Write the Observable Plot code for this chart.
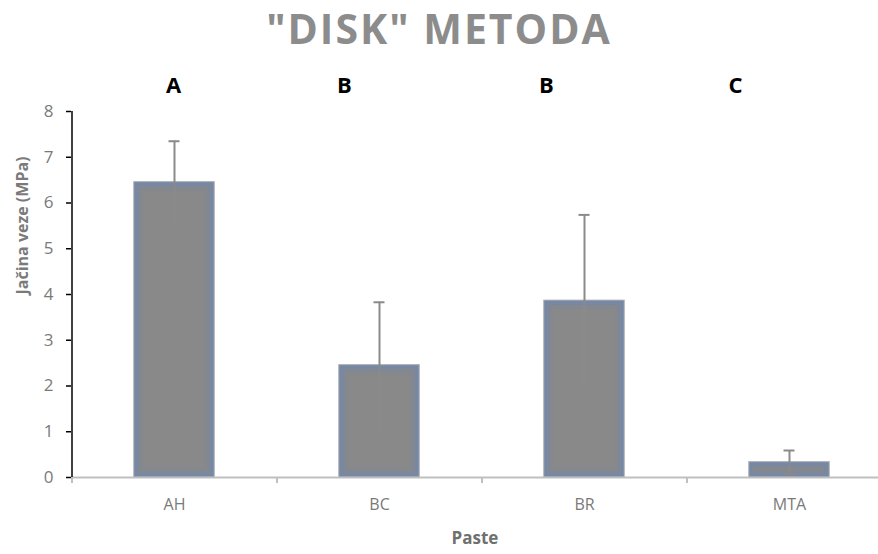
<!DOCTYPE html>
<html>
<head>
<meta charset="utf-8">
<script src="https://cdn.jsdelivr.net/npm/d3@7"></script>
<script src="https://cdn.jsdelivr.net/npm/@observablehq/plot@0.6"></script>
<style>
  html, body { margin: 0; padding: 0; background: #fff; }
  #title { width: 878px; height: 56px; text-align: center; font: 700 41px "Open Sans", sans-serif; line-height: 56px; letter-spacing: 2px; color: #8c8c8c; }
  #chart svg { display: block; }
</style>
</head>
<body>
<div id="title">"DISK" METODA</div>
<div id="chart"></div>
<script>
// ---- data ----
const categories = ["AH", "BC", "BR", "MTA"];
const means = [6.45, 2.45, 3.86, 0.33];
const sds = [0.90, 1.38, 1.88, 0.26];
const groupLetters = ["A", "B", "B", "C"];
const yTicks = [0, 1, 2, 3, 4, 5, 6, 7, 8];

// ---- layout / style ----
const letterDx = [-1, -35, -38, -54];
const xRange = [71, 891];
const step = (xRange[1] - xRange[0]) / categories.length;
const data = categories.map((c, i) => ({paste: c, mean: means[i], sd: sds[i], letter: groupLetters[i]}));
const font = "'Open Sans', sans-serif";

const plot = Plot.plot({
  width: 878,
  height: 498,
  marginTop: 55,
  marginBottom: 77,
  marginLeft: 71,
  marginRight: 0,
  style: {fontFamily: font, background: "#fff", overflow: "hidden"},
  x: {domain: categories, range: xRange, paddingInner: 0.61, paddingOuter: 0.305, label: null},
  y: {domain: [0, 8], label: null},
  marks: [
    // bars with soft bluish inner edge
    Plot.barY(data, {x: "paste", y: "mean", fill: "#898989", stroke: "#a8a8a8", strokeWidth: 1.5}),
    Plot.barY(data, {x: "paste", y: "mean", fill: "none", stroke: "#7088b0", strokeWidth: 2.5, strokeOpacity: 0.8, inset: 1.5}),
    Plot.barY(data, {x: "paste", y: "mean", fill: "none", stroke: "#7088b0", strokeWidth: 2, strokeOpacity: 0.5, inset: 3.5}),
    Plot.barY(data, {x: "paste", y: "mean", fill: "none", stroke: "#7088b0", strokeWidth: 2, strokeOpacity: 0.3, inset: 5.5}),
    Plot.barY(data, {x: "paste", y: "mean", fill: "none", stroke: "#7088b0", strokeWidth: 2, strokeOpacity: 0.15, inset: 7.5}),
    Plot.barY(data, {x: "paste", y: "mean", fill: "none", stroke: "#7088b0", strokeWidth: 2, strokeOpacity: 0.06, inset: 9.5}),
    // baseline
    Plot.ruleY([0], {stroke: "#bfbfbf", strokeWidth: 2}),
    // error bars
    Plot.ruleX(data, {x: "paste", y1: d => d.mean - d.sd, y2: d => d.mean + d.sd, stroke: "#8a8a8a", strokeWidth: 2}),
    Plot.tickY(data, {x: "paste", y: d => d.mean + d.sd, stroke: "#8a8a8a", strokeWidth: 2, insetLeft: 34.5, insetRight: 34.5}),
    Plot.tickY(data, {x: "paste", y: d => d.mean - d.sd, stroke: "#8a8a8a", strokeWidth: 2, insetLeft: 34.5, insetRight: 34.5}),
    // y axis
    Plot.axisY({ticks: yTicks, tickSize: 5, tickPadding: 13, stroke: "#000", strokeWidth: 1.5, fontSize: 17, color: "#7a7a7a", label: null}),
    Plot.ruleX([categories[0]], {y1: 0, y2: 8, dx: -step / 2, stroke: "#000", strokeWidth: 1.5}),
    // x axis: category boundary ticks + labels
    Plot.axisX({tickSize: 6, text: null, stroke: "#bfbfbf", strokeWidth: 2, dx: -step / 2, label: null}),
    Plot.axisX({tickSize: 0, tickPadding: 21, fontSize: 16, color: "#7a7a7a", label: null}),
    // axis titles
    Plot.text(["Paste"], {frameAnchor: "bottom", dy: 66, fontSize: 17, fontWeight: "bold", fill: "#6f6f6f"}),
    Plot.text(["Jačina veze (MPa)"], {frameAnchor: "left", rotate: -90, dx: -49, fontSize: 16, fontWeight: "bold", fill: "#7a7a7a"}),
    // group letters
    ...data.map((d, i) => Plot.text([d], {x: "paste", text: "letter", frameAnchor: "top", dy: -34, dx: letterDx[i], fontSize: 22, fontWeight: "bold", fill: "#000"}))
  ]
});
document.getElementById("chart").appendChild(plot);
</script>
</body>
</html>
